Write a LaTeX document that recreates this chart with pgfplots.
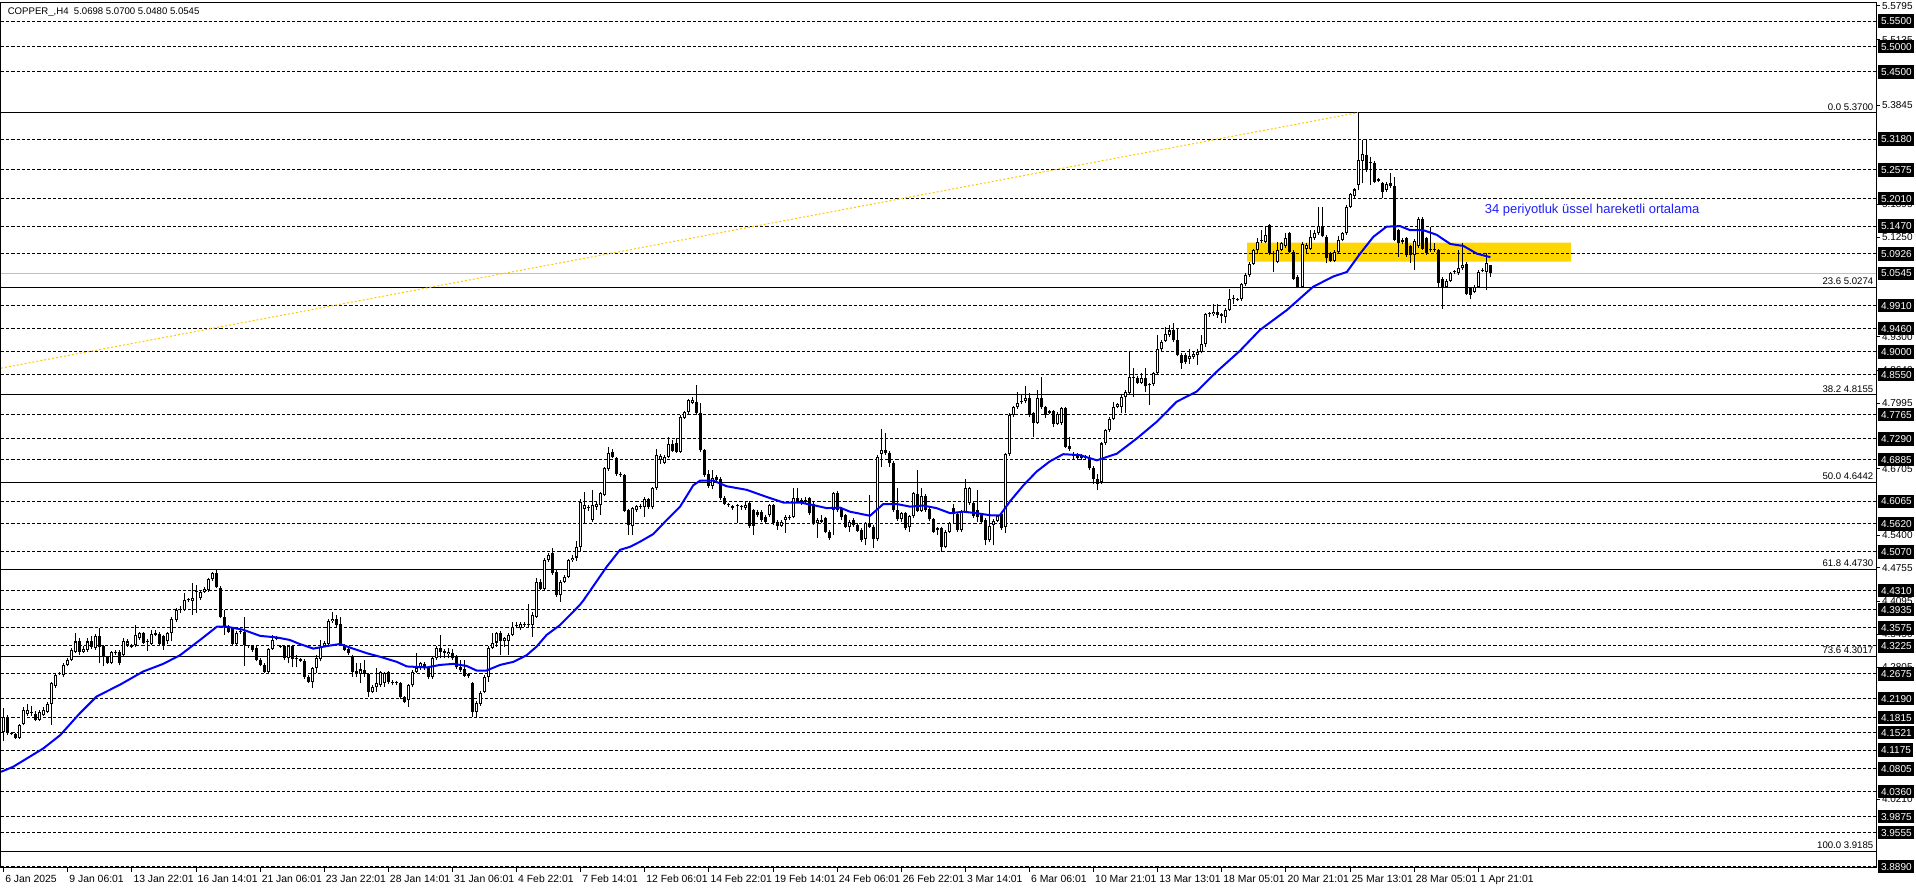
\documentclass[border=0pt]{standalone}
\usepackage{pgfplots}
\pgfplotsset{compat=1.18}
\usepackage{pgfplotstable}
\usepackage{fontspec}
\setmainfont{Liberation Sans}
\definecolor{boxgold}{RGB}{255,214,0}
\definecolor{trendy}{RGB}{255,200,0}
\definecolor{emablue}{RGB}{0,0,255}
\definecolor{txtblue}{RGB}{30,30,255}
\definecolor{bidgray}{RGB}{192,192,192}
\newcommand{\lab}{\fontsize{5pt}{6pt}\selectfont}
\newcommand{\dlab}{\fontsize{5.2pt}{6pt}\selectfont}
\newcommand{\flab}{\fontsize{4.8pt}{6pt}\selectfont}

\pgfplotstableread{
i o h l c
0 4.154 4.200 4.135 4.183
1 4.183 4.186 4.148 4.151
2 4.151 4.153 4.147 4.150
3 4.150 4.152 4.139 4.141
4 4.141 4.169 4.139 4.167
5 4.169 4.203 4.166 4.196
6 4.188 4.209 4.185 4.196
7 4.193 4.205 4.185 4.191
8 4.188 4.195 4.174 4.177
9 4.177 4.197 4.174 4.193
10 4.186 4.203 4.184 4.196
11 4.193 4.212 4.190 4.208
12 4.209 4.252 4.167 4.249
13 4.244 4.268 4.240 4.265
14 4.267 4.272 4.265 4.268
15 4.265 4.288 4.262 4.285
16 4.285 4.298 4.282 4.295
17 4.295 4.318 4.292 4.314
18 4.311 4.347 4.308 4.331
19 4.331 4.338 4.304 4.311
20 4.311 4.322 4.308 4.317
21 4.314 4.338 4.311 4.331
22 4.331 4.341 4.317 4.320
23 4.318 4.345 4.315 4.341
24 4.341 4.357 4.288 4.321
25 4.322 4.325 4.282 4.301
26 4.301 4.303 4.286 4.289
27 4.289 4.312 4.286 4.310
28 4.308 4.314 4.305 4.311
29 4.311 4.314 4.284 4.288
30 4.305 4.338 4.301 4.332
31 4.324 4.335 4.321 4.331
32 4.324 4.326 4.318 4.321
33 4.324 4.363 4.320 4.344
34 4.337 4.350 4.334 4.347
35 4.347 4.350 4.326 4.329
36 4.331 4.335 4.313 4.330
37 4.327 4.354 4.324 4.346
38 4.344 4.353 4.341 4.348
39 4.346 4.349 4.324 4.327
40 4.341 4.344 4.314 4.324
41 4.331 4.350 4.327 4.347
42 4.347 4.380 4.331 4.376
43 4.373 4.396 4.370 4.393
44 4.393 4.400 4.387 4.393
45 4.393 4.426 4.390 4.413
46 4.412 4.417 4.409 4.413
47 4.411 4.445 4.383 4.416
48 4.429 4.442 4.386 4.429
49 4.416 4.433 4.413 4.429
50 4.429 4.439 4.426 4.435
51 4.432 4.456 4.429 4.453
52 4.453 4.468 4.450 4.465
53 4.465 4.472 4.436 4.439
54 4.437 4.440 4.377 4.380
55 4.380 4.393 4.344 4.360
56 4.360 4.363 4.347 4.350
57 4.357 4.360 4.324 4.327
58 4.327 4.351 4.324 4.348
59 4.349 4.353 4.346 4.350
60 4.350 4.380 4.282 4.324
61 4.322 4.325 4.318 4.322
62 4.322 4.325 4.311 4.314
63 4.319 4.322 4.292 4.295
64 4.295 4.298 4.282 4.285
65 4.285 4.288 4.269 4.272
66 4.272 4.319 4.269 4.316
67 4.317 4.343 4.314 4.334
68 4.336 4.341 4.333 4.338
69 4.321 4.325 4.318 4.321
70 4.322 4.325 4.294 4.298
71 4.298 4.325 4.288 4.322
72 4.322 4.325 4.280 4.296
73 4.296 4.304 4.280 4.298
74 4.296 4.299 4.290 4.292
75 4.293 4.296 4.258 4.261
76 4.261 4.265 4.249 4.252
77 4.252 4.281 4.239 4.278
78 4.278 4.305 4.270 4.298
79 4.296 4.334 4.292 4.320
80 4.322 4.332 4.320 4.328
81 4.327 4.375 4.324 4.372
82 4.371 4.388 4.368 4.376
83 4.376 4.383 4.360 4.363
84 4.365 4.379 4.322 4.326
85 4.322 4.326 4.312 4.315
86 4.317 4.320 4.305 4.308
87 4.301 4.305 4.262 4.272
88 4.274 4.289 4.262 4.270
89 4.268 4.289 4.249 4.276
90 4.275 4.294 4.262 4.267
91 4.267 4.270 4.222 4.232
92 4.232 4.245 4.229 4.242
93 4.241 4.278 4.232 4.250
94 4.245 4.274 4.242 4.271
95 4.249 4.272 4.242 4.270
96 4.271 4.273 4.247 4.252
97 4.252 4.255 4.246 4.250
98 4.249 4.253 4.245 4.250
99 4.249 4.252 4.218 4.221
100 4.221 4.224 4.210 4.213
101 4.216 4.248 4.203 4.245
102 4.245 4.275 4.242 4.272
103 4.272 4.308 4.270 4.278
104 4.278 4.291 4.275 4.288
105 4.287 4.290 4.275 4.278
106 4.278 4.281 4.258 4.262
107 4.262 4.301 4.258 4.298
108 4.298 4.322 4.295 4.319
109 4.319 4.344 4.298 4.311
110 4.313 4.316 4.298 4.308
111 4.306 4.318 4.298 4.311
112 4.309 4.316 4.295 4.298
113 4.301 4.304 4.277 4.280
114 4.281 4.295 4.271 4.275
115 4.276 4.295 4.262 4.263
116 4.267 4.270 4.260 4.264
117 4.249 4.252 4.183 4.193
118 4.193 4.214 4.183 4.211
119 4.209 4.234 4.205 4.230
120 4.232 4.265 4.229 4.262
121 4.262 4.323 4.252 4.319
122 4.319 4.347 4.316 4.328
123 4.329 4.350 4.321 4.347
124 4.347 4.351 4.304 4.331
125 4.331 4.340 4.321 4.337
126 4.331 4.347 4.304 4.344
127 4.344 4.370 4.341 4.359
128 4.361 4.370 4.357 4.361
129 4.357 4.369 4.354 4.366
130 4.364 4.370 4.360 4.364
131 4.363 4.405 4.359 4.363
132 4.363 4.389 4.340 4.383
133 4.380 4.455 4.377 4.448
134 4.448 4.453 4.432 4.435
135 4.435 4.495 4.432 4.492
136 4.492 4.504 4.488 4.501
137 4.504 4.515 4.462 4.465
138 4.468 4.471 4.419 4.422
139 4.422 4.452 4.409 4.448
140 4.448 4.461 4.445 4.458
141 4.458 4.494 4.455 4.491
142 4.491 4.500 4.488 4.496
143 4.496 4.529 4.490 4.516
144 4.517 4.611 4.507 4.606
145 4.592 4.625 4.563 4.599
146 4.595 4.600 4.588 4.594
147 4.570 4.629 4.566 4.599
148 4.596 4.605 4.590 4.601
149 4.599 4.625 4.580 4.622
150 4.619 4.674 4.616 4.671
151 4.669 4.714 4.666 4.701
152 4.704 4.710 4.691 4.694
153 4.691 4.694 4.657 4.660
154 4.661 4.664 4.655 4.658
155 4.658 4.661 4.585 4.588
156 4.589 4.592 4.541 4.559
157 4.557 4.596 4.540 4.593
158 4.589 4.600 4.586 4.597
159 4.595 4.601 4.592 4.597
160 4.595 4.614 4.576 4.610
161 4.610 4.613 4.592 4.595
162 4.595 4.635 4.592 4.632
163 4.632 4.710 4.629 4.697
164 4.688 4.699 4.680 4.695
165 4.682 4.697 4.679 4.694
166 4.694 4.732 4.691 4.719
167 4.719 4.727 4.703 4.706
168 4.720 4.730 4.701 4.704
169 4.704 4.776 4.701 4.773
170 4.771 4.784 4.768 4.781
171 4.781 4.808 4.778 4.805
172 4.800 4.812 4.797 4.805
173 4.802 4.835 4.776 4.779
174 4.779 4.800 4.704 4.707
175 4.707 4.710 4.655 4.658
176 4.661 4.668 4.633 4.636
177 4.636 4.668 4.630 4.652
178 4.655 4.658 4.642 4.648
179 4.651 4.654 4.609 4.612
180 4.612 4.616 4.599 4.602
181 4.600 4.603 4.596 4.599
182 4.597 4.600 4.589 4.593
183 4.597 4.601 4.563 4.597
184 4.596 4.599 4.589 4.595
185 4.593 4.606 4.589 4.599
186 4.604 4.607 4.554 4.557
187 4.589 4.592 4.540 4.557
188 4.586 4.589 4.576 4.580
189 4.586 4.589 4.566 4.570
190 4.576 4.579 4.563 4.566
191 4.579 4.602 4.576 4.599
192 4.599 4.602 4.560 4.563
193 4.566 4.569 4.550 4.558
194 4.558 4.569 4.555 4.566
195 4.570 4.579 4.544 4.576
196 4.573 4.580 4.570 4.576
197 4.576 4.632 4.573 4.612
198 4.612 4.633 4.603 4.606
199 4.609 4.612 4.600 4.604
200 4.609 4.615 4.602 4.606
201 4.612 4.615 4.580 4.583
202 4.602 4.605 4.560 4.563
203 4.563 4.573 4.534 4.570
204 4.570 4.580 4.563 4.566
205 4.573 4.576 4.544 4.547
206 4.547 4.550 4.531 4.534
207 4.589 4.625 4.540 4.622
208 4.622 4.627 4.586 4.589
209 4.592 4.595 4.570 4.576
210 4.579 4.582 4.553 4.556
211 4.556 4.569 4.547 4.566
212 4.570 4.573 4.556 4.559
213 4.560 4.563 4.546 4.549
214 4.551 4.554 4.527 4.530
215 4.533 4.566 4.520 4.563
216 4.563 4.619 4.553 4.555
217 4.556 4.559 4.514 4.532
218 4.532 4.697 4.529 4.694
219 4.699 4.748 4.674 4.708
220 4.708 4.741 4.698 4.701
221 4.702 4.705 4.674 4.682
222 4.682 4.685 4.586 4.589
223 4.589 4.632 4.568 4.571
224 4.571 4.586 4.566 4.583
225 4.583 4.586 4.550 4.553
226 4.555 4.580 4.547 4.577
227 4.577 4.625 4.574 4.622
228 4.621 4.668 4.585 4.588
229 4.588 4.632 4.585 4.617
230 4.617 4.620 4.586 4.589
231 4.592 4.595 4.568 4.571
232 4.571 4.574 4.544 4.547
233 4.550 4.556 4.540 4.553
234 4.553 4.556 4.507 4.517
235 4.517 4.550 4.514 4.547
236 4.547 4.566 4.544 4.563
237 4.593 4.602 4.563 4.581
238 4.581 4.584 4.547 4.550
239 4.550 4.589 4.547 4.586
240 4.586 4.651 4.583 4.632
241 4.604 4.635 4.600 4.632
242 4.604 4.607 4.574 4.577
243 4.589 4.628 4.566 4.575
244 4.579 4.582 4.563 4.566
245 4.570 4.573 4.520 4.530
246 4.530 4.609 4.527 4.558
247 4.559 4.571 4.520 4.568
248 4.568 4.580 4.565 4.577
249 4.581 4.584 4.550 4.553
250 4.556 4.702 4.545 4.699
251 4.699 4.780 4.696 4.776
252 4.776 4.794 4.773 4.791
253 4.791 4.822 4.788 4.800
254 4.801 4.815 4.797 4.802
255 4.804 4.833 4.800 4.810
256 4.810 4.820 4.773 4.776
257 4.779 4.782 4.733 4.761
258 4.761 4.825 4.758 4.810
259 4.810 4.851 4.788 4.791
260 4.791 4.794 4.771 4.776
261 4.780 4.786 4.777 4.783
262 4.783 4.786 4.752 4.759
263 4.759 4.781 4.756 4.778
264 4.760 4.792 4.757 4.789
265 4.789 4.792 4.711 4.714
266 4.716 4.732 4.706 4.710
267 4.697 4.704 4.688 4.695
268 4.695 4.702 4.688 4.691
269 4.695 4.700 4.688 4.691
270 4.692 4.697 4.688 4.693
271 4.692 4.698 4.668 4.672
272 4.672 4.676 4.640 4.650
273 4.650 4.660 4.628 4.641
274 4.645 4.723 4.640 4.720
275 4.720 4.749 4.717 4.746
276 4.746 4.772 4.743 4.769
277 4.769 4.802 4.766 4.792
278 4.792 4.800 4.789 4.797
279 4.792 4.815 4.779 4.812
280 4.812 4.825 4.779 4.822
281 4.820 4.900 4.817 4.851
282 4.851 4.868 4.812 4.849
283 4.849 4.852 4.836 4.839
284 4.839 4.858 4.836 4.849
285 4.849 4.868 4.822 4.832
286 4.834 4.839 4.795 4.836
287 4.836 4.861 4.833 4.858
288 4.858 4.933 4.855 4.905
289 4.905 4.923 4.902 4.920
290 4.922 4.949 4.919 4.935
291 4.933 4.953 4.930 4.942
292 4.942 4.956 4.920 4.923
293 4.923 4.946 4.891 4.894
294 4.894 4.897 4.867 4.879
295 4.894 4.897 4.877 4.881
296 4.885 4.905 4.877 4.891
297 4.889 4.899 4.886 4.896
298 4.894 4.905 4.874 4.900
299 4.900 4.933 4.897 4.915
300 4.915 4.977 4.910 4.974
301 4.974 4.979 4.969 4.974
302 4.974 4.995 4.971 4.979
303 4.979 4.995 4.966 4.972
304 4.974 4.977 4.956 4.971
305 4.969 4.986 4.956 4.983
306 4.983 5.023 4.980 5.003
307 5.003 5.011 4.995 5.003
308 5.002 5.006 4.999 5.003
309 5.003 5.036 5.000 5.033
310 5.033 5.054 5.030 5.051
311 5.051 5.076 5.048 5.073
312 5.073 5.103 5.070 5.100
313 5.100 5.123 5.093 5.116
314 5.117 5.139 5.113 5.118
315 5.116 5.146 5.113 5.130
316 5.149 5.152 5.091 5.094
317 5.094 5.098 5.056 5.093
318 5.077 5.116 5.074 5.100
319 5.101 5.116 5.098 5.113
320 5.107 5.133 5.104 5.123
321 5.133 5.136 5.094 5.097
322 5.097 5.100 5.041 5.044
323 5.048 5.051 5.025 5.028
324 5.028 5.115 5.025 5.112
325 5.103 5.113 5.094 5.110
326 5.103 5.139 5.100 5.126
327 5.123 5.139 5.120 5.133
328 5.133 5.185 5.130 5.147
329 5.147 5.185 5.125 5.128
330 5.126 5.129 5.074 5.084
331 5.094 5.097 5.076 5.079
332 5.079 5.100 5.076 5.097
333 5.097 5.128 5.094 5.120
334 5.120 5.136 5.117 5.133
335 5.133 5.188 5.130 5.185
336 5.185 5.213 5.182 5.210
337 5.206 5.222 5.203 5.219
338 5.228 5.370 5.218 5.276
339 5.274 5.316 5.231 5.289
340 5.287 5.316 5.254 5.257
341 5.272 5.283 5.228 5.271
342 5.272 5.275 5.231 5.234
343 5.239 5.242 5.233 5.236
344 5.231 5.234 5.203 5.215
345 5.218 5.233 5.215 5.230
346 5.231 5.251 5.222 5.225
347 5.225 5.244 5.117 5.120
348 5.139 5.142 5.087 5.114
349 5.120 5.123 5.111 5.115
350 5.123 5.126 5.087 5.090
351 5.107 5.110 5.074 5.090
352 5.090 5.121 5.061 5.118
353 5.107 5.165 5.104 5.162
354 5.162 5.165 5.100 5.103
355 5.123 5.126 5.091 5.094
356 5.101 5.146 5.097 5.100
357 5.101 5.113 5.097 5.100
358 5.100 5.103 5.028 5.036
359 5.044 5.047 4.985 5.028
360 5.028 5.043 5.025 5.040
361 5.040 5.057 5.037 5.054
362 5.056 5.060 5.053 5.057
363 5.054 5.101 5.051 5.064
364 5.064 5.114 5.061 5.071
365 5.073 5.076 5.011 5.014
366 5.025 5.028 5.003 5.012
367 5.018 5.031 5.015 5.028
368 5.028 5.060 5.025 5.057
369 5.059 5.064 5.056 5.061
370 5.057 5.095 5.021 5.074
371 5.0698 5.0700 5.0480 5.0545
}\candles

\pgfplotsset{
  geom/.style={
    at={(0.5pt,442.5pt)}, anchor=north west,
    scale only axis, width=937.5pt, height=432.5pt,
    xmin=-0.674, xmax=467.25, ymin=3.886, ymax=5.5854,
    clip=false,
  },
  ebar/.style={draw=none, mark=none, forget plot,
    error bars/.cd, y dir=plus, y explicit, error mark=none,
    error bar style={solid, #1}},
}

\begin{document}
\begin{tikzpicture}
\path[use as bounding box] (0,0) rectangle (958pt,444pt);
\begin{axis}[
  geom,
  axis line style={line width=0.5pt},
  xtick pos=bottom, ytick pos=right, yticklabel pos=right,
  tick align=outside, major tick length=2pt,
  tick style={line width=0.5pt, black},
  xtick={0,16,...,368},
  xticklabels={6 Jan 2025, 9 Jan 06:01, 13 Jan 22:01, 16 Jan 14:01, 21 Jan 06:01, 23 Jan 22:01, 28 Jan 14:01, 31 Jan 06:01, 4 Feb 22:01, 7 Feb 14:01, 12 Feb 06:01, 14 Feb 22:01, 19 Feb 14:01, 24 Feb 06:01, 26 Feb 22:01, 3 Mar 14:01, 6 Mar 06:01, 10 Mar 21:01, 13 Mar 13:01, 18 Mar 05:01, 20 Mar 21:01, 25 Mar 13:01, 28 Mar 05:01, 1 Apr 21:01},
  xticklabel style={font=\dlab, anchor=north west, inner sep=0pt, xshift=0.6pt, yshift=-1.2pt},
  ytick={5.5795,5.5135,5.3845,5.1895,5.1250,4.9300,4.8640,4.7995,4.6705,4.5400,4.4755,4.4095,4.3450,4.2805,4.0210},
  yticklabel style={font=\lab, anchor=west, inner sep=0pt, xshift=0.8pt,
     /pgf/number format/fixed, /pgf/number format/fixed zerofill,
     /pgf/number format/precision=4, /pgf/number format/assume math mode=true},
]
\addplot[fill=boxgold, draw=none, forget plot] coordinates {(310.3,5.0771) (391.1,5.0771) (391.1,5.1144) (310.3,5.1144) (310.3,5.0771)};
\pgfplotsinvokeforeach{5.5500,5.5000,5.4500,5.3180,5.2575,5.2010,5.1470,5.0926,4.9910,4.9460,4.9000,4.8550,4.7765,4.7290,4.6885,4.6065,4.5620,4.5070,4.4310,4.3935,4.3575,4.3225,4.2675,4.2190,4.1815,4.1521,4.1175,4.0805,4.0360,3.9875,3.9555,3.8890}{
  \addplot[black, line width=0.5pt, dash pattern=on 1.6pt off 1pt, forget plot] coordinates {(-0.674,#1) (467.25,#1)};
}
\pgfplotsinvokeforeach{5.3700,5.0274,4.8155,4.6442,4.4730,4.3017,3.9185}{
  \addplot[black, line width=0.5pt, forget plot] coordinates {(-0.674,#1) (467.25,#1)};
}
\addplot[bidgray, line width=0.5pt, forget plot] coordinates {(-0.674,5.0545) (467.25,5.0545)};
\addplot[trendy, line width=0.5pt, dash pattern=on 1pt off 1pt, forget plot] coordinates {(-0.674,4.868) (338,5.370)};
% wicks
\addplot[ebar={draw=black, line width=0.5pt}]
  table[x=i, y=l, y error plus expr={\thisrow{h}-\thisrow{l}}] {\candles};
% bodies
\addplot[ebar={draw=black, line width=1.5pt}]
  table[x=i, y expr={min(\thisrow{o},\thisrow{c})}, y error plus expr={max(abs(\thisrow{c}-\thisrow{o}),0.002)}] {\candles};
% hollow interior of rising candles
\addplot[ebar={draw=white, line width=0.5pt}]
  table[x=i, y expr={\thisrow{o}+0.002}, y error plus expr={max(\thisrow{c}-\thisrow{o}-0.004,0)}] {\candles};
% 34 EMA
\addplot[emablue, line width=1pt, forget plot] coordinates {
(-0.674,4.075) (2.4,4.085) (9.9,4.121) (14.1,4.147) (19.0,4.190) (23.2,4.223) (29.0,4.246) (34.8,4.272) (39.8,4.287) (44.0,4.304) (49.0,4.334) (53.2,4.360) (55.7,4.360) (59.8,4.354) (64.0,4.342) (68.1,4.339) (71.4,4.334) (73.9,4.326) (77.3,4.317) (80.6,4.322) (83.9,4.326) (87.2,4.317) (90.6,4.308) (93.9,4.301) (98.1,4.291) (100.6,4.282) (105.6,4.280) (108.9,4.285) (112.2,4.287) (115.5,4.283) (118.0,4.274) (120.5,4.274) (123.9,4.285) (127.2,4.291) (130.5,4.304) (133.0,4.321) (135.5,4.344) (138.8,4.363) (142.2,4.390) (143.8,4.403) (144.7,4.412) (150.5,4.478) (153.8,4.511) (156.3,4.517) (158.8,4.527) (162.1,4.542) (165.5,4.570) (168.8,4.596) (172.1,4.638) (173.8,4.647) (177.1,4.647) (180.4,4.636) (185.4,4.629) (190.4,4.615) (194.6,4.604) (198.7,4.604) (202.0,4.599) (205.4,4.593) (208.7,4.594) (211.2,4.586) (216.2,4.578) (219.5,4.601) (222.9,4.601) (226.2,4.596) (229.5,4.598) (232.8,4.593) (236.2,4.583) (239.5,4.586) (242.8,4.583) (246.2,4.579) (248.6,4.579) (251.1,4.606) (254.5,4.638) (257.8,4.665) (261.1,4.685) (264.4,4.699) (268.6,4.697) (272.8,4.687) (277.8,4.700) (282.8,4.730) (287.8,4.763) (292.7,4.802) (297.7,4.822) (302.7,4.861) (308.5,4.902) (313.5,4.943) (320.2,4.982) (326.8,5.028) (331.8,5.048) (335.2,5.057) (338.5,5.093) (341.8,5.126) (345.1,5.146) (348.5,5.147) (351.0,5.139) (354.3,5.139) (357.6,5.130) (361.0,5.112) (364.3,5.108) (367.6,5.093) (371.0,5.086)
};
\node[text=txtblue, font=\fontsize{6.5pt}{7.5pt}\selectfont] at (axis cs:396.4,5.1787) {34 periyotluk üssel hareketli ortalama};
\node[anchor=north west, font=\flab, inner sep=0pt, xshift=3.2pt, yshift=-2pt] at (axis cs:-0.674,5.5854) {COPPER\_,H4\ \ 5.0698 5.0700 5.0480 5.0545};
\node[anchor=south east, font=\flab, inner sep=0pt, xshift=-1.2pt, yshift=1pt] at (axis cs:467.25,5.3700) {0.0 5.3700};
\node[anchor=south east, font=\flab, inner sep=0pt, xshift=-1.2pt, yshift=1pt] at (axis cs:467.25,5.0274) {23.6 5.0274};
\node[anchor=south east, font=\flab, inner sep=0pt, xshift=-1.2pt, yshift=1pt] at (axis cs:467.25,4.8155) {38.2 4.8155};
\node[anchor=south east, font=\flab, inner sep=0pt, xshift=-1.2pt, yshift=1pt] at (axis cs:467.25,4.6442) {50.0 4.6442};
\node[anchor=south east, font=\flab, inner sep=0pt, xshift=-1.2pt, yshift=1pt] at (axis cs:467.25,4.4730) {61.8 4.4730};
\node[anchor=south east, font=\flab, inner sep=0pt, xshift=-1.2pt, yshift=1pt] at (axis cs:467.25,4.3017) {73.6 4.3017};
\node[anchor=south east, font=\flab, inner sep=0pt, xshift=-1.2pt, yshift=1pt] at (axis cs:467.25,3.9185) {100.0 3.9185};
\end{axis}
\begin{axis}[geom, hide axis]
\pgfplotsinvokeforeach{5.5500,5.5000,5.4500,5.3180,5.2575,5.2010,5.1470,5.0926,5.0545,4.9910,4.9460,4.9000,4.8550,4.7765,4.7290,4.6885,4.6065,4.5620,4.5070,4.4310,4.3935,4.3575,4.3225,4.2675,4.2190,4.1815,4.1521,4.1175,4.0805,4.0360,3.9875,3.9555,3.8890}{
  \node[fill=black, text=white, anchor=west, font=\lab, inner xsep=1.3pt, inner ysep=1.5pt, text height=3.7pt, text depth=0pt, xshift=1pt] at (axis cs:467.25,#1) {#1};
}
\end{axis}
\end{tikzpicture}
\end{document}
